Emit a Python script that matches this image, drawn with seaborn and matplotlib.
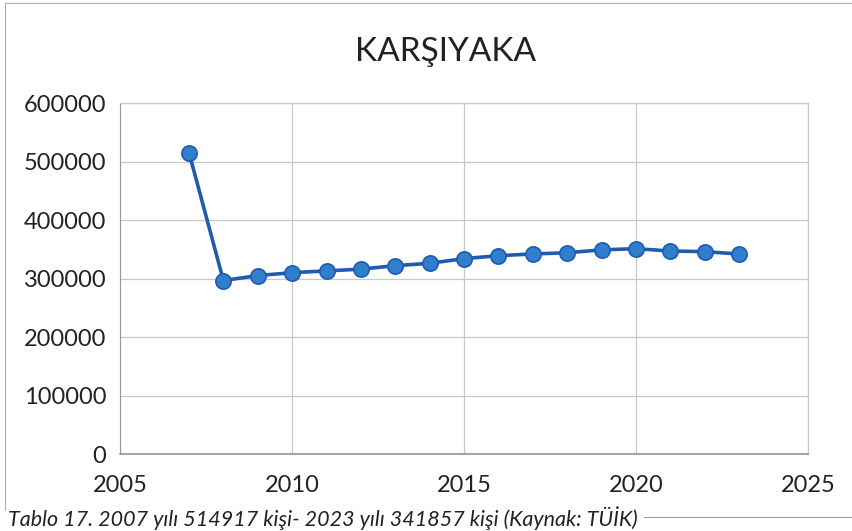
import matplotlib
matplotlib.use("Agg")
import matplotlib.pyplot as plt
import pandas as pd
import seaborn as sns
from matplotlib.lines import Line2D

years = [2007, 2008, 2009, 2010, 2011, 2012, 2013, 2014, 2015,
         2016, 2017, 2018, 2019, 2020, 2021, 2022, 2023]
population = [514917, 296500, 305000, 310000, 313000, 316000, 322000, 326000, 334000,
              339000, 342000, 344000, 349000, 351000, 347000, 346000, 341857]
x_ticks = [2005, 2010, 2015, 2020, 2025]
y_ticks = [0, 100000, 200000, 300000, 400000, 500000, 600000]
title = "KARŞIYAKA"
caption = "Tablo 17. 2007 yılı 514917 kişi- 2023 yılı 341857 kişi (Kaynak: TÜİK)"

sns.set_style("white")
plt.rcParams["font.family"] = ["Lato", "DejaVu Sans"]

df = pd.DataFrame({"year": years, "population": population})

fig = plt.figure(figsize=(8.53, 5.31), dpi=100)
ax = fig.add_axes([0.141, 0.145, 0.806, 0.661])

sns.lineplot(data=df, x="year", y="population", ax=ax, color="#1f5cb0", linewidth=2.6,
             marker="o", markersize=11, markerfacecolor="#2f7fcc",
             markeredgecolor="#1f5cb0", markeredgewidth=1.2, zorder=3)

ax.set_xlim(2005, 2025)
ax.set_ylim(0, 600000)
ax.set_xticks(x_ticks)
ax.set_yticks(y_ticks)
ax.set_xticklabels([str(t) for t in x_ticks])
ax.set_yticklabels([str(t) for t in y_ticks])
ax.tick_params(axis="both", length=0, labelsize=17, colors="#222222")
ax.tick_params(axis="x", pad=15)
ax.tick_params(axis="y", pad=10)
ax.set_xlabel("")
ax.set_ylabel("")
ax.grid(True, color="#c8c8c8", linewidth=0.9)
for side in ["top", "right"]:
    ax.spines[side].set_color("#c8c8c8")
    ax.spines[side].set_linewidth(0.9)
ax.spines["left"].set_color("#9a9a9a")
ax.spines["bottom"].set_color("#8a8a8a")
ax.spines["bottom"].set_linewidth(1.1)

fig.text(0.522, 0.902, title, ha="center", va="center", fontsize=24, color="#222222")
fig.text(0.009, 0.025, caption, ha="left", va="center", fontsize=15.5, style="italic", color="#222222")

# chart frame remnants of the scan
fig.add_artist(Line2D([0.006, 1.0], [0.994, 0.994], color="#b0b0b0", linewidth=0.8))
fig.add_artist(Line2D([0.006, 0.006], [0.04, 0.994], color="#b0b0b0", linewidth=0.8))
fig.add_artist(Line2D([0.755, 1.0], [0.027, 0.027], color="#a0a0a0", linewidth=0.8))

fig.savefig("out.png", dpi=100)
